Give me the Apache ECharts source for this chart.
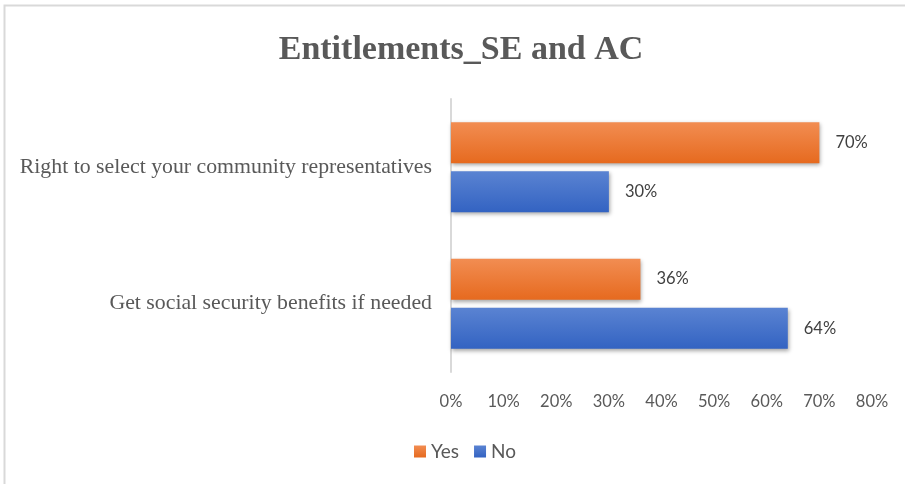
<!DOCTYPE html>
<html>
<head>
<meta charset="utf-8">
<script src="https://cdn.jsdelivr.net/npm/echarts@6/dist/echarts.min.js"></script>
<style>
  html, body { margin: 0; padding: 0; background: #fff; }
  #chart { width: 905px; height: 484px; }
</style>
</head>
<body>
<div id="chart"></div>
<script>
// Survey entitlements: share answering Yes / No for each item
const categories = [
  'Right to select your community representatives',
  'Get social security benefits if needed'
];
const yesValues = [70, 36];
const noValues = [30, 64];
const seriesNames = ['Yes', 'No'];

const serif = '"Liberation Serif", "Times New Roman", serif';
const sans = 'Lato, "Open Sans", sans-serif';

function grad(top, bottom) {
  return new echarts.graphic.LinearGradient(0, 0, 0, 1, [
    { offset: 0, color: top },
    { offset: 1, color: bottom }
  ]);
}

const chart = echarts.init(document.getElementById('chart'), null, { renderer: 'canvas' });

const valueLabel = {
  show: true,
  position: 'right',
  distance: 16,
  formatter: p => p.value + '%',
  fontFamily: sans,
  fontSize: 16.5,
  color: '#404040'
};

const barShadow = {
  shadowColor: 'rgba(0,0,0,0.35)',
  shadowBlur: 4,
  shadowOffsetY: 2,
  shadowOffsetX: 1
};

chart.setOption({
  animation: false,
  backgroundColor: '#ffffff',
  graphic: [{
    type: 'rect',
    shape: { x: 4.5, y: 5.5, width: 920, height: 490 },
    style: { fill: 'none', stroke: '#d9d9d9', lineWidth: 2 },
    silent: true,
    z: -1
  }],
  title: {
    text: 'Entitlements_SE and AC',
    left: 456,
    textAlign: 'center',
    top: 28,
    textStyle: {
      fontFamily: serif,
      fontSize: 34,
      fontWeight: 'bold',
      color: '#595959'
    }
  },
  legend: {
    data: seriesNames,
    left: 409,
    top: 437,
    itemWidth: 12,
    itemHeight: 12,
    itemGap: 15,
    icon: 'rect',
    textStyle: { fontFamily: sans, fontSize: 19, color: '#595959' }
  },
  grid: { left: 451, right: 33, top: 99, bottom: 112, containLabel: false },
  xAxis: {
    type: 'value',
    min: 0,
    max: 80,
    interval: 10,
    axisLine: { show: false },
    axisTick: { show: false },
    splitLine: { show: false },
    axisLabel: {
      formatter: '{value}%',
      fontFamily: sans,
      fontSize: 16.5,
      color: '#595959',
      margin: 21
    }
  },
  yAxis: {
    type: 'category',
    data: categories,
    inverse: true,
    axisLine: { show: true, lineStyle: { color: '#d9d9d9', width: 2 } },
    axisTick: { show: false },
    axisLabel: {
      fontFamily: serif,
      fontSize: 21.8,
      color: '#595959',
      margin: 19
    }
  },
  series: [
    {
      name: 'Yes',
      type: 'bar',
      data: yesValues,
      barWidth: 41,
      barGap: '20%',
      itemStyle: Object.assign({ color: grad('#F28D52', '#E66A1F') }, barShadow),
      label: valueLabel
    },
    {
      name: 'No',
      type: 'bar',
      data: noValues,
      barWidth: 41,
      barGap: '20%',
      itemStyle: Object.assign({ color: grad('#5A83D2', '#3363C2') }, barShadow),
      label: valueLabel
    }
  ]
});
</script>
</body>
</html>
